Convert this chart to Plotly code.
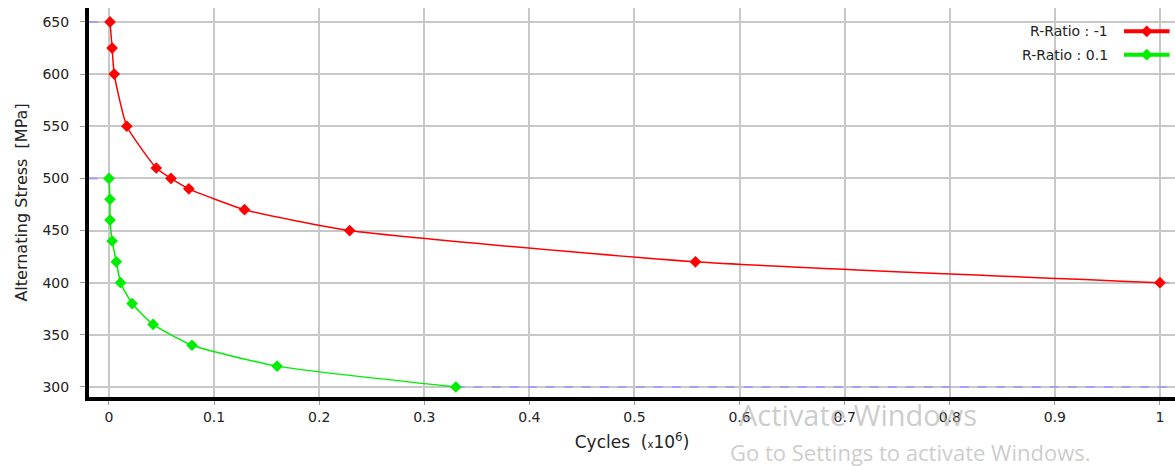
import plotly.graph_objects as go

# ---- data ----
red_name = "R-Ratio : -1"
red_cycles = [0.001, 0.003, 0.005, 0.017, 0.045, 0.059, 0.076, 0.129, 0.229, 0.558, 1.0]
red_stress = [650, 625, 600, 550, 510, 500, 490, 470, 450, 420, 400]

green_name = "R-Ratio : 0.1"
green_cycles = [0.0, 0.001, 0.001, 0.003, 0.007, 0.011, 0.022, 0.042, 0.079, 0.160, 0.330]
green_stress = [500, 480, 460, 440, 420, 400, 380, 360, 340, 320, 300]

x_ticks = [0, 0.1, 0.2, 0.3, 0.4, 0.5, 0.6, 0.7, 0.8, 0.9, 1]
x_tick_labels = ["0", "0.1", "0.2", "0.3", "0.4", "0.5", "0.6", "0.7", "0.8", "0.9", "1"]
y_ticks = [300, 350, 400, 450, 500, 550, 600, 650]

x_range = [-0.019, 1.0143]
y_range = [290.4, 663.4]

RED = "#ff0000"
GREEN = "#00ee00"
EXT = "rgba(150,150,255,0.8)"
FONT = "DejaVu Sans"
TXT = "#222"

fig = go.Figure()

# dashed extension lines beyond data ends
for xs, ys in [(red_cycles, red_stress), (green_cycles, green_stress)]:
    fig.add_trace(go.Scatter(x=[x_range[0], xs[0]], y=[ys[0], ys[0]], mode="lines",
                             line=dict(color=EXT, width=2, dash="dash"),
                             showlegend=False, hoverinfo="skip"))
    fig.add_trace(go.Scatter(x=[xs[-1], x_range[1]], y=[ys[-1], ys[-1]], mode="lines",
                             line=dict(color=EXT, width=2, dash="dash"),
                             showlegend=False, hoverinfo="skip"))

for name, xs, ys, col in [(red_name, red_cycles, red_stress, RED),
                          (green_name, green_cycles, green_stress, GREEN)]:
    fig.add_trace(go.Scatter(x=xs, y=ys, mode="lines+markers", name=name,
                             line=dict(color=col, width=1.5, shape="spline", smoothing=0.5),
                             marker=dict(symbol="diamond", size=9, color=col),
                             showlegend=False))

# legend samples on an overlay axis
leg_y = [0.94, 0.88]
for (name, col), ly in zip([(red_name, RED), (green_name, GREEN)], leg_y):
    fig.add_trace(go.Scatter(x=[0.953, 0.995], y=[ly, ly], mode="lines", xaxis="x2", yaxis="y2",
                             line=dict(color=col, width=4), showlegend=False, hoverinfo="skip"))
    fig.add_trace(go.Scatter(x=[0.974], y=[ly], mode="markers", xaxis="x2", yaxis="y2",
                             marker=dict(symbol="diamond", size=9, color=col),
                             showlegend=False, hoverinfo="skip"))
    fig.add_annotation(x=0.94, y=ly, xref="x2", yref="y2", text=name, showarrow=False,
                       xanchor="right", yanchor="middle",
                       font=dict(family=FONT, size=14, color=TXT))

# watermark
fig.add_annotation(x=0.597, y=-0.046, xref="paper", yref="paper", text="Activate Windows",
                   showarrow=False, xanchor="left", yanchor="middle",
                   font=dict(family="Open Sans", size=29, color="rgba(170,170,170,0.6)"))
fig.add_annotation(x=0.588, y=-0.141, xref="paper", yref="paper",
                   text="Go to Settings to activate Windows.",
                   showarrow=False, xanchor="left", yanchor="middle",
                   font=dict(family="Open Sans", size=22, color="rgba(170,170,170,0.6)"))

fig.update_layout(
    width=1175, height=466,
    margin=dict(l=89, r=0, t=8, b=69),
    paper_bgcolor="white", plot_bgcolor="white",
    font=dict(family=FONT, size=14, color=TXT),
    xaxis=dict(range=x_range, tickvals=x_ticks, ticktext=x_tick_labels,
               showgrid=True, gridcolor="#c8c8c8", gridwidth=1.5,
               zeroline=False, showline=True, linecolor="black", linewidth=4,
               ticks="outside", ticklen=4, tickcolor="#999", tickwidth=1,
               tickfont=dict(family=FONT, size=14, color=TXT),
               title=dict(text="Cycles  (<span style='font-size:10px'>x</span>10<sup>6</sup>)",
                          font=dict(family=FONT, size=17, color=TXT), standoff=13)),
    yaxis=dict(range=y_range, tickvals=y_ticks,
               showgrid=True, gridcolor="#c8c8c8", gridwidth=1.5,
               zeroline=False, showline=True, linecolor="black", linewidth=4,
               ticks="outside", ticklen=5, tickcolor="#999", tickwidth=1,
               ticklabelstandoff=8,
               tickfont=dict(family=FONT, size=14, color=TXT),
               title=dict(text="Alternating Stress  [MPa]",
                          font=dict(family=FONT, size=16, color=TXT), standoff=12)),
    xaxis2=dict(range=[0, 1], overlaying="x", visible=False, domain=[0, 1]),
    yaxis2=dict(range=[0, 1], overlaying="y", visible=False, domain=[0, 1]),
)

fig.write_html("out.html")
